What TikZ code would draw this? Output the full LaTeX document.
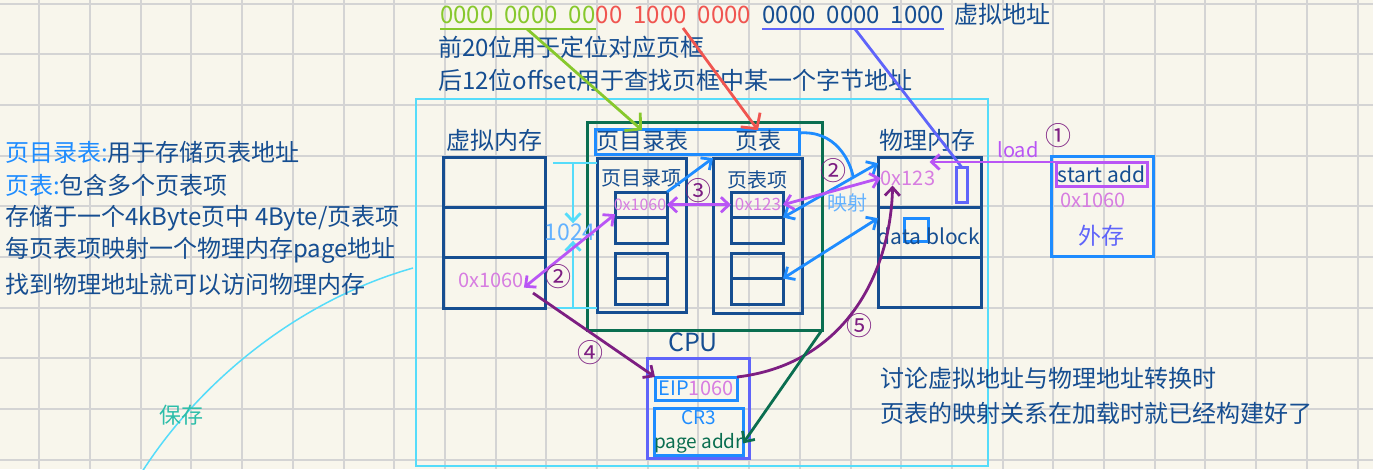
\documentclass[tikz,border=0pt]{standalone}
\usepackage{fontspec}
\setmainfont{Noto Sans CJK SC}
\usetikzlibrary{arrows.meta, positioning, calc}
\definecolor{paper}{RGB}{248,246,236}
\definecolor{gridgray}{RGB}{212,212,212}
\definecolor{navy}{RGB}{22,78,145}
\definecolor{brightblue}{RGB}{30,140,255}
\definecolor{slate}{RGB}{95,100,250}
\definecolor{skyblue}{RGB}{100,178,255}
\definecolor{cyanline}{RGB}{85,220,250}
\definecolor{orchid}{RGB}{215,125,225}
\definecolor{arrowviolet}{RGB}{185,85,245}
\definecolor{plum}{RGB}{125,30,130}
\definecolor{cpugreen}{RGB}{10,110,80}
\definecolor{lime}{RGB}{135,200,45}
\definecolor{coral}{RGB}{240,85,80}
\definecolor{savegreen}{RGB}{45,190,170}
\newcommand{\pxfont}[1]{\fontsize{#1}{#1}\selectfont}
\newcommand{\bitgap}{\hspace{11pt}}
\tikzset{
  cell/.style={draw=navy, line width=3pt, outer sep=0pt, inner sep=0pt},
  lbl/.style={inner sep=0pt, text=navy, font=\pxfont{24}},
  hexlbl/.style={inner sep=0pt, text=orchid, font=\pxfont{20}},
  stepno/.style={inner sep=0pt, text=plum, font=\pxfont{26}},
  link/.style={line width=2.8pt},
  gridline/.style={gridgray, line width=2pt},
}

\begin{document}
\begin{tikzpicture}[x=1pt, y=-1pt, >={Straight Barb[length=8pt,width=15pt]}]
  \useasboundingbox (0,0) rectangle (1373,469);
  \fill[paper] (0,0) rectangle (1373,469);
  \clip (0,0) rectangle (1373,469);
  % paper grid
  \foreach \gx in {0,...,26}
    \draw[gridline] ({39.3+50.7*\gx},0) -- ++(0,469);
  \foreach \gy in {0,...,9}
    \draw[gridline] (0,{3.5+50.7*\gy}) -- ++(1373,0);

  \draw[cyanline, line width=1.5pt] (416,99) rectangle (988,466);
  \draw[cyanline, line width=1.5pt] (413,268) .. controls (300,300) and (200,380) .. (140,475);

  % address bits
  \node[lbl, text=lime, anchor=west] (bitsA) at (440,15) {0000\bitgap0000\bitgap00};
  \node[lbl, text=coral, right=0pt of bitsA] (bitsB) {00\bitgap1000\bitgap0000};
  \node[lbl, right=11pt of bitsB] (bitsC) {0000\bitgap0000\bitgap1000};
  \node[lbl, base right=10pt of bitsC] (vaddr) {虚拟地址};
  \draw[lime, link] ([yshift=-5pt]bitsA.south west) -- ([yshift=-5pt]bitsA.south east);
  \draw[slate, link] ([yshift=-5pt]bitsC.south west) -- ([yshift=-5pt]bitsC.south east);
  \node[lbl, anchor=west] (hi20) at (438,47) {前20位用于定位对应页框};
  \node[lbl, anchor=west] (lo12) at (438,80) {后12位offset用于查找页框中某一个字节地址};

  % notes
  \node[lbl, anchor=west] (note1) at (5,152) {\textcolor{brightblue}{页目录表:}用于存储页表地址};
  \node[lbl, anchor=west] (note2) at (5,185) {\textcolor{brightblue}{页表:}包含多个页表项};
  \node[lbl, anchor=west] (note3) at (5,218) {存储于一个4kByte页中 4Byte/页表项};
  \node[lbl, anchor=west] (note4) at (5,250) {每页表项映射一个物理内存page地址};
  \node[lbl, anchor=west] (note5) at (5,284) {找到物理地址就可以访问物理内存};
  \node[lbl, text=savegreen, font=\pxfont{22}] (savelbl) at (181,415) {保存};
  \node[lbl, anchor=west] (note6) at (880,378) {讨论虚拟地址与物理地址转换时};
  \node[lbl, anchor=west] (note7) at (880,413) {页表的映射关系在加载时就已经构建好了};

  % virtual memory
  \node[lbl] (vmtitle) at (494,140) {虚拟内存};
  \node[cell, minimum width=102pt, minimum height=50pt] (vm1) at (494,182) {};
  \node[cell, minimum width=102pt, minimum height=50pt, below=0pt of vm1] (vm2) {};
  \node[cell, minimum width=102pt, minimum height=51pt, below=0pt of vm2] (vm3) {};
  \node[hexlbl] (vmaddr) at (491,280) {0x1060};

  % cpu
  \node[draw=cpugreen, line width=3pt, outer sep=0pt, minimum width=235pt, minimum height=208pt] (cpu) at (704.5,226) {};
  \node[lbl, font=\pxfont{25}] (cpulbl) at (693,342) {CPU};
  \node[draw=brightblue, line width=3pt, outer sep=0pt, minimum width=204pt, minimum height=25pt] (hdr) at (697,141.5) {};
  \node[lbl, font=\pxfont{23}] (hdrdir) at (642,141) {页目录表};
  \node[lbl, font=\pxfont{23}] (hdrtab) at (758,141) {页表};

  \node[cell, minimum width=89pt, minimum height=154pt] (pdir) at (641.5,235) {};
  \node[lbl, font=\pxfont{20}] (pdirlbl) at (641,178) {页目录项};
  \node[cell, minimum width=52pt, minimum height=25.5pt] (pde1) at (641,204.75) {};
  \node[cell, minimum width=52pt, minimum height=25.5pt, below=0pt of pde1] (pde2) {};
  \node[cell, minimum width=52pt, minimum height=25.5pt, below=10pt of pde2] (pde3) {};
  \node[cell, minimum width=52pt, minimum height=25.5pt, below=0pt of pde3] (pde4) {};
  \node[hexlbl, font=\pxfont{16}] (pdeaddr) at (640,205) {0x1060};

  \node[cell, minimum width=89pt, minimum height=155pt] (ptab) at (757.5,235.5) {};
  \node[lbl, font=\pxfont{20}] (ptablbl) at (757,180) {页表项};
  \node[cell, minimum width=52pt, minimum height=25.5pt] (pte1) at (757,204.75) {};
  \node[cell, minimum width=52pt, minimum height=25.5pt, below=0pt of pte1] (pte2) {};
  \node[cell, minimum width=52pt, minimum height=25.5pt, below=10pt of pte2] (pte3) {};
  \node[cell, minimum width=52pt, minimum height=25.5pt, below=0pt of pte3] (pte4) {};
  \node[hexlbl, font=\pxfont{17}] (pteaddr) at (758,204) {0x123};

  % physical memory
  \node[lbl] (pmtitle) at (927,140) {物理内存};
  \node[cell, minimum width=103pt, minimum height=50pt] (pm1) at (929.5,182) {};
  \node[cell, minimum width=103pt, minimum height=50pt, below=0pt of pm1] (pm2) {};
  \node[cell, minimum width=103pt, minimum height=50pt, below=0pt of pm2] (pm3) {};
  \node[cell, draw=slate, minimum width=11pt, minimum height=35pt] (pbar) at (961.5,184.5) {};
  \node[cell, draw=brightblue, minimum width=24pt, minimum height=23pt] (pblk) at (916,229.5) {};
  \node[hexlbl] (pmaddr) at (908,178) {0x123};
  \node[lbl, font=\pxfont{21}] (dblock) at (929,236) {data block};

  % external storage
  \node[cell, draw=brightblue, minimum width=102pt, minimum height=100pt] (ext) at (1102,206) {};
  \node[cell, lbl, draw=arrowviolet, minimum width=91pt, minimum height=24pt, font=\pxfont{21}] (startadd) at (1101.5,174) {start add};
  \node[hexlbl] (extaddr) at (1093,200) {0x1060};
  \node[lbl, text=slate, font=\pxfont{23}] (extlbl) at (1101,236) {外存};
  \node[lbl, text=arrowviolet, font=\pxfont{20}] (loadlbl) at (1018,150) {load};
  \node[stepno] (s1) at (1058,136) {①};

  % registers
  \node[cell, draw=slate, minimum width=102pt, minimum height=100pt] (regs) at (698,408) {};
  \node[cell, draw=brightblue, minimum width=82pt, minimum height=23pt, font=\pxfont{20}] (eip) at (696,388.5) {\textcolor{brightblue}{EIP}\textcolor{orchid}{1060}};
  \node[cell, draw=brightblue, minimum width=89pt, minimum height=47pt, align=center, font=\fontsize{19}{24}\selectfont] (cr3) at (698.5,431.5) {\textcolor{brightblue}{CR3}\\\textcolor{cpugreen}{page addr}};

  % 1024 span
  \node[lbl, text=skyblue, font=\pxfont{23}] (len) at (570,232) {1024};
  \coordinate (dimT) at (573,163);
  \coordinate (dimB) at (573,308);
  \draw[cyanline, link] ([xshift=-20pt]dimT) -- (pdir.west |- dimT);
  \draw[cyanline, link] ([xshift=-20pt]dimB) -- (pdir.west |- dimB);
  \draw[cyanline, link, ->] (dimT) -- (dimT |- len.north);
  \draw[cyanline, link, ->] (dimB) -- (dimB |- len.south);

  % bit fields to tables
  \coordinate (gsrc) at (527,29);
  \coordinate (rsrc) at (683,28);
  \coordinate (bsrc) at (855,29);
  \draw[lime, link, -{Straight Barb[length=11pt,width=24pt]}] (gsrc) -- (hdrdir.north);
  \draw[coral, link, -{Straight Barb[length=11pt,width=24pt]}] (rsrc) -- (hdrtab.north);
  \draw[slate, link] (bsrc) -- (pbar.north);

  % steps
  \draw[arrowviolet, link, ->] (startadd.north west) -- ([yshift=-5pt]pm1.north);
  \draw[arrowviolet, link, <->] (vmaddr.south east) -- (pde1.200);
  \node[stepno] (s2a) at (558,277) {②};
  \draw[brightblue, link, ->] (pde1.north east) -- (ptab.north west);
  \draw[arrowviolet, link, <->] (pde1.east) -- (pte1.west);
  \node[stepno] (s3) at (698,191) {③};
  \draw[brightblue, link, <->] (pte1.south east) -- coordinate[pos=0.74] (mapmid) (pm1.160);
  \draw[brightblue, link] ([yshift=-4pt]hdr.north east) .. controls (835,130) and (850,160) .. (mapmid);
  \draw[brightblue, link, <->] (pte3.south east) -- (pm2.165);
  \draw[arrowviolet, link, <->] (pte1.east) -- (pmaddr.west);
  \node[stepno] (s2b) at (833,171) {②};
  \node[lbl, text=skyblue, font=\pxfont{20}] (maplbl) at (847,203) {映射};

  \coordinate (p4) at (533,293);
  \draw[plum, link, ->] (p4) -- (eip.north west);
  \node[stepno] (s4) at (590,353) {④};
  \draw[plum, link, ->] (eip.north east) .. controls (840,365) and (890,280) .. ([xshift=12pt]pmaddr.south west);
  \node[stepno] (s5) at (859,326) {⑤};
  \draw[cpugreen, link, ->] (cpu.south east) -- (cr3.-15);
\end{tikzpicture}
\end{document}
